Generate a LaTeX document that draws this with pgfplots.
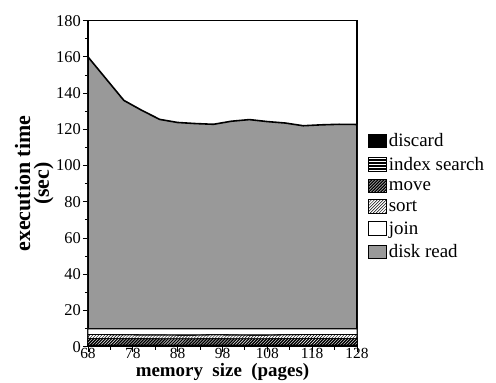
\documentclass[border=0pt]{standalone}
\usepackage{pgfplots}
\usepackage{pgfplotstable}
\pgfplotsset{compat=1.18}
\usetikzlibrary{patterns}
\usepackage{fontspec}
\setmainfont{Liberation Serif}

\pgfplotstableread{
x discard index move sort join disk
68  0.5 0.5 3.5 2.2 3.1 150.2
72  0.5 0.5 3.5 2.2 3.1 138.2
76  0.5 0.5 3.4 2.2 3.2 126.2
80  0.5 0.5 3.4 2.1 3.3 120.7
84  0.5 0.5 3.3 2.2 3.3 115.7
88  0.5 0.5 3.3 2.1 3.4 114.0
92  0.5 0.5 3.3 2.1 3.4 113.4
96  0.5 0.5 3.4 2.2 3.2 113.0
100 0.5 0.5 3.3 2.2 3.3 114.7
104 0.5 0.5 3.3 2.1 3.4 115.6
108 0.5 0.5 3.3 2.1 3.4 114.5
112 0.5 0.5 3.4 2.2 3.2 113.7
116 0.5 0.5 3.5 2.2 3.1 112.2
120 0.5 0.5 3.5 2.2 3.1 112.7
124 0.5 0.5 3.5 2.2 3.1 113.0
128 0.5 0.5 3.5 2.2 3.1 112.9
}\data

\begin{document}
\begin{tikzpicture}
\useasboundingbox (-88bp,-36.3bp) rectangle (408bp,346.7bp);
\begin{axis}[
  at={(0,0)}, anchor=south west,
  scale only axis, width=269bp, height=326bp,
  xmin=68, xmax=128, ymin=0, ymax=180,
  xtick={68,78,...,128}, ytick={0,20,...,180},
  minor x tick num=1, minor y tick num=1,
  tick align=outside, xtick pos=left, ytick pos=left,
  major tick length=5bp, minor tick length=3bp,
  axis line style={line width=1.3pt},
  every tick/.style={black, line width=0.9pt},
  /pgf/number format/assume math mode=true,
  tick label style={font=\fontsize{16.5}{16.5}\selectfont},
  xticklabel style={font=\fontsize{15.5}{15.5}\selectfont, yshift=3.5bp, inner sep=0pt, text height=10bp, text depth=0pt},
  yticklabel style={inner sep=2bp},
  ylabel={execution time\\(sec)},
  ylabel style={align=center, font=\bfseries\fontsize{22}{19}\selectfont, yshift=-3bp},
  xlabel={memory\ \ size\ \ (pages)},
  xlabel style={font=\bfseries\fontsize{19}{15}\selectfont, yshift=-4.5bp, inner sep=0pt},
  stack plots=y,
  legend style={at={(1.04,0.66)}, anchor=north west, draw=none, fill=none,
    font=\fontsize{19}{19}\selectfont, inner sep=0pt, row sep=5bp,
    /tikz/every even column/.append style={column sep=7bp}},
  legend cell align=left,
  legend image code/.code={\draw[#1, draw=black, line width=0.9pt] (0bp,-6.5bp) rectangle (18bp,7bp);},
]
\addplot[fill=black, draw=black, line width=0.5pt] table[x=x,y=discard]{\data} \closedcycle;
\addlegendentry{discard}
\addplot[fill=black, draw=black, line width=0.5pt, postaction={pattern=horizontal lines, pattern color=white}] table[x=x,y=index]{\data} \closedcycle;
\addlegendentry{index search}
\addplot[fill=black, draw=black, line width=0.5pt, postaction={pattern=north east lines, pattern color=white}] table[x=x,y=move]{\data} \closedcycle;
\addlegendentry{move}
\addplot[fill=white, draw=black, line width=0.8pt, postaction={pattern=north east lines, pattern color=black}] table[x=x,y=sort]{\data} \closedcycle;
\addlegendentry{sort}
\addplot[fill=white, draw=black, line width=1pt] table[x=x,y=join]{\data} \closedcycle;
\addlegendentry{join}
\addplot[fill=black!40, draw=black, line width=1.6pt] table[x=x,y=disk]{\data} \closedcycle;
\addlegendentry{disk read}
\end{axis}
\end{tikzpicture}
\end{document}
